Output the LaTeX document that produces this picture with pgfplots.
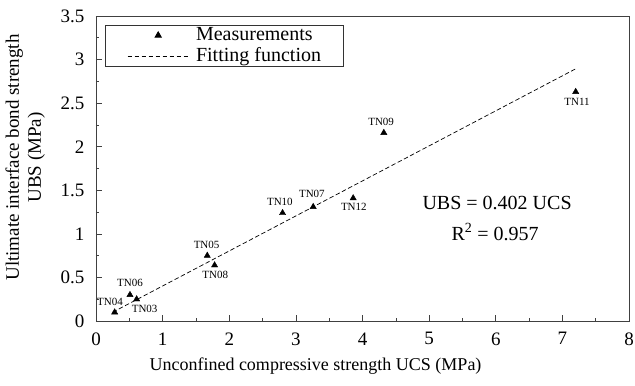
\documentclass[border=0pt]{standalone}
\usepackage{pgfplots}
\pgfplotsset{compat=1.18}
\usepackage{fontspec}
\setmainfont{Liberation Serif}
\pgfplotsset{
  marklegend/.style={legend image code/.code={\draw[mark repeat=2,mark phase=2,##1] plot coordinates {(0,0) (30.5pt,0) (61pt,0)};}},
  linelegend/.style={legend image code/.code={\draw[##1] (0pt,0pt) -- (61pt,0pt);}},
}
\begin{document}
\begin{tikzpicture}
\begin{axis}[
  name=ax,
  scale only axis,
  width=533pt, height=305pt,
  xmin=0, xmax=8, ymin=0, ymax=3.5,
  xtick={0,1,...,8},
  ytick={0,0.5,1,1.5,2,2.5,3,3.5},
  yticklabels={0,0.5,1,1.5,2,2.5,3,3.5},
  minor x tick num=1, minor y tick num=1,
  tick align=inside,
  xtick pos=bottom, ytick pos=left,
  major tick length=6pt, minor tick length=3pt,
  axis line style={black!75, line width=0.8pt},
  tick style={black!75, line width=0.6pt},
  /pgf/number format/assume math mode=true,
  ticklabel style={font=\fontsize{19}{19}\selectfont},
  xticklabel style={yshift=-8pt},
  yticklabel style={xshift=-8pt},
  xlabel={Unconfined compressive strength UCS (MPa)},
  xlabel style={font=\fontsize{18}{18}\selectfont, yshift=-6pt, xshift=-47pt},
  ylabel={Ultimate interface bond strength\\UBS (MPa)},
  ylabel style={font=\fontsize{19}{22}\selectfont, align=center, yshift=9pt, xshift=11pt},
  legend style={at={(rel axis cs:0.0168,0.9705)}, anchor=north west,
    draw=black!80, line width=0.8pt, inner xsep=22pt, inner ysep=1pt,
    font=\fontsize{20}{20}\selectfont,
    nodes={inner sep=0pt, anchor=west, text height=14pt, text depth=4pt},
    row sep=3pt,
    /tikz/every odd column/.append style={column sep=7pt}},
  legend cell align=left,
]
\addplot[only marks, mark=triangle*, mark size=3.6pt, black, marklegend]
  coordinates {
  (0.28,0.10) (0.51,0.30) (0.61,0.25) (1.78,0.64) (1.67,0.75)
  (2.80,1.24) (3.26,1.31) (3.86,1.41) (4.32,2.16) (7.20,2.63)
};
\addlegendentry{Measurements}
\addplot[black, line width=0.7pt, dash pattern=on 4.5pt off 2.5pt, linelegend]
  coordinates {(0.25,0.1005) (7.2,2.894)};
\addlegendentry{Fitting function}
\begin{scope}[every node/.style={font=\fontsize{11}{11}\selectfont}]
\node at (axis cs:0.21,0.22) {TN04};
\node at (axis cs:0.51,0.44) {TN06};
\node at (axis cs:0.73,0.14) {TN03};
\node at (axis cs:1.79,0.53) {TN08};
\node at (axis cs:1.66,0.87) {TN05};
\node at (axis cs:2.76,1.37) {TN10};
\node at (axis cs:3.24,1.46) {TN07};
\node at (axis cs:3.87,1.31) {TN12};
\node at (axis cs:4.28,2.28) {TN09};
\node at (axis cs:7.22,2.52) {TN11};
\end{scope}
\node[font=\fontsize{20}{20}\selectfont] at (axis cs:6.02,1.35) {UBS = 0.402 UCS};
\node[font=\fontsize{20}{20}\selectfont] at (axis cs:5.99,1.02) {R\textsuperscript{2} = 0.957};
\end{axis}
\pgfresetboundingbox
\path ([shift={(-96pt,-64pt)}]ax.south west) rectangle ([shift={(6pt,16pt)}]ax.north east);
\end{tikzpicture}
\end{document}
